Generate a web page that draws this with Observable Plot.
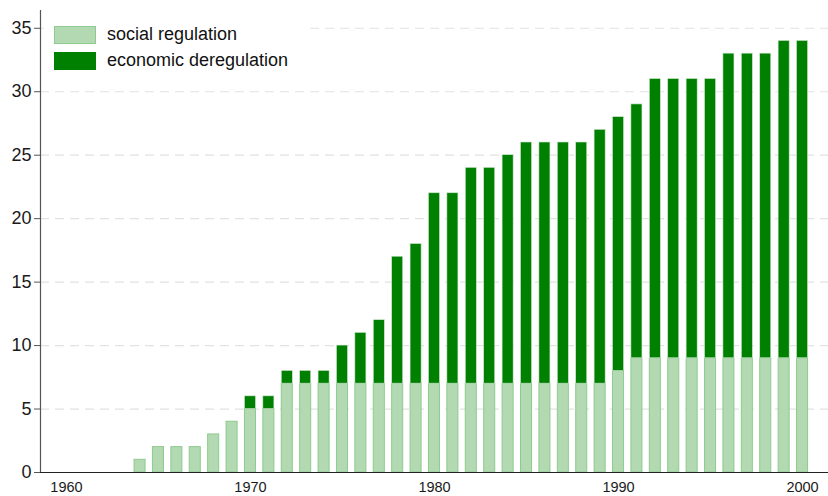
<!DOCTYPE html>
<html>
<head>
<meta charset="utf-8">
<script src="https://cdn.jsdelivr.net/npm/d3@7"></script>
<script src="https://cdn.jsdelivr.net/npm/@observablehq/plot@0.6"></script>
<style>
  html, body { margin: 0; padding: 0; background: #fff; }
  #wrap { position: relative; width: 828px; height: 496px; font-family: "Liberation Sans", Arial, sans-serif; }
  #legend { position: absolute; left: 44px; top: 14px; width: 262px; height: 62px; background: #fff; }
  .item { position: absolute; left: 10px; display: flex; align-items: center; font-size: 18px; color: #111; font-family: "Liberation Sans", Arial, sans-serif; }
  .sw { width: 42px; height: 18px; margin-right: 11px; box-sizing: border-box; }
</style>
</head>
<body>
<div id="wrap"></div>
<script>
const years = d3.range(1964, 2001);
const socialRegulation = [1,2,2,2,3,4,5,5,7,7,7,7,7,7,7,7,7,7,7,7,7,7,7,7,7,7,8,9,9,9,9,9,9,9,9,9,9];
const totalRegulation  = [1,2,2,2,3,4,6,6,8,8,8,10,11,12,17,18,22,22,24,24,25,26,26,26,26,27,28,29,31,31,31,31,33,33,33,34,34];
const xTicks = [1960, 1970, 1980, 1990, 2000];
const yTicks = [0, 5, 10, 15, 20, 25, 30, 35];
const seriesNames = ["social regulation", "economic deregulation"];
const seriesColors = ["#b3d9b3", "#008000"];

const rows = years.map((year, i) => ({
  year, social: socialRegulation[i], total: totalRegulation[i]
}));
const econRows = rows.filter(d => d.total > d.social);
const half = 0.3;

const chart = Plot.plot({
  width: 828,
  height: 496,
  marginLeft: 40,
  marginRight: 0,
  marginTop: 10,
  marginBottom: 24,
  style: { fontFamily: "Liberation Sans, Arial, sans-serif", background: "#fff" },
  x: { domain: [1958.59, 2001.41] },
  y: { domain: [0, 36.4] },
  marks: [
    Plot.gridY(yTicks.filter(t => t > 0), { stroke: "#e2e2e2", strokeOpacity: 1, strokeDasharray: "9,6", strokeWidth: 1.2 }),
    Plot.rectY(rows, { x1: d => d.year - half, x2: d => d.year + half, y1: 0, y2: "social",
      fill: seriesColors[0], stroke: "#8ecb8e", strokeWidth: 1 }),
    Plot.rectY(econRows, { x1: d => d.year - half, x2: d => d.year + half, y1: "social", y2: "total",
      fill: seriesColors[1], stroke: "#cfe6cf", strokeWidth: 0.6 }),
    Plot.ruleY([0], { stroke: "#222", strokeWidth: 1.2 }),
    Plot.ruleX([1958.59], { y1: 0, y2: 36.4, stroke: "#555", strokeWidth: 1.2 }),
    Plot.axisY({ ticks: yTicks, fontSize: 18, tickSize: 6, tickPadding: 3, stroke: "#555", color: "#1a1a1a", label: null }),
    Plot.axisX({ ticks: xTicks, tickFormat: d => String(d), fontSize: 14.5, tickSize: 0, tickPadding: 9, color: "#1a1a1a", label: null })
  ]
});

const wrap = document.getElementById("wrap");
wrap.appendChild(chart);
const legend = document.createElement("div");
legend.id = "legend";
seriesNames.forEach((name, i) => {
  const item = document.createElement("div");
  item.className = "item";
  item.style.top = (i === 0 ? 10 : 36) + "px";
  const sw = document.createElement("div");
  sw.className = "sw";
  sw.style.background = seriesColors[i];
  sw.style.border = i === 0 ? "1px solid #8ecb8e" : "none";
  item.appendChild(sw);
  item.appendChild(document.createTextNode(name));
  legend.appendChild(item);
});
wrap.appendChild(legend);
</script>
</body>
</html>
